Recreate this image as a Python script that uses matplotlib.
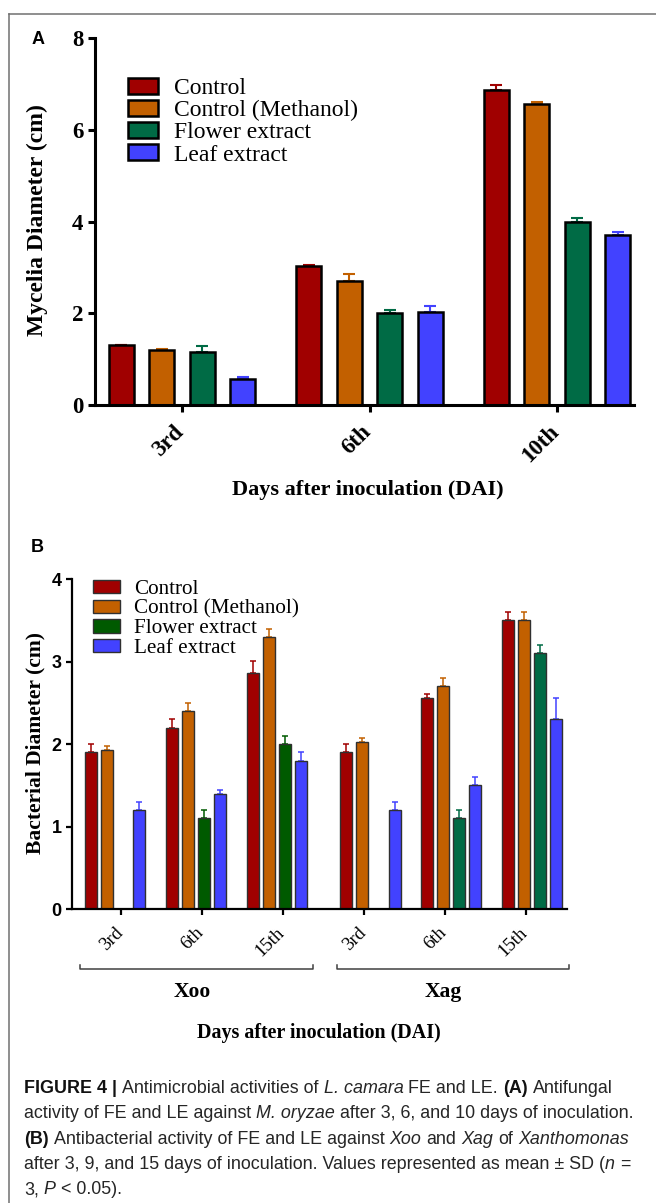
import matplotlib
matplotlib.use('Agg')
import matplotlib.pyplot as plt
import matplotlib.transforms as mtransforms
from matplotlib.patches import Patch
from matplotlib.lines import Line2D
from matplotlib import font_manager
import numpy as np

# ---------------- data ----------------
series = ['Control', 'Control (Methanol)', 'Flower extract', 'Leaf extract']

a_days = ['3rd', '6th', '10th']
a_control = [1.30, 3.03, 6.88]
a_control_sd = [0.00, 0.03, 0.10]
a_methanol = [1.20, 2.70, 6.56]
a_methanol_sd = [0.03, 0.15, 0.04]
a_flower = [1.16, 2.00, 4.00]
a_flower_sd = [0.13, 0.07, 0.08]
a_leaf = [0.56, 2.03, 3.70]
a_leaf_sd = [0.04, 0.13, 0.08]
a_yticks = [0, 2, 4, 6, 8]

b_days = ['3rd', '6th', '15th', '3rd', '6th', '15th']
b_pathogen = ['Xoo', 'Xoo', 'Xoo', 'Xag', 'Xag', 'Xag']
b_control = [1.90, 2.20, 2.86, 1.90, 2.56, 3.50]
b_control_sd = [0.10, 0.10, 0.15, 0.10, 0.05, 0.10]
b_methanol = [1.93, 2.40, 3.30, 2.03, 2.70, 3.50]
b_methanol_sd = [0.05, 0.10, 0.10, 0.05, 0.10, 0.10]
b_flower = [0.00, 1.10, 2.00, 0.00, 1.10, 3.10]
b_flower_sd = [0.00, 0.10, 0.10, 0.00, 0.10, 0.10]
b_leaf = [1.20, 1.40, 1.80, 1.20, 1.50, 2.30]
b_leaf_sd = [0.10, 0.05, 0.10, 0.10, 0.10, 0.26]
b_yticks = [0, 1, 2, 3, 4]

# ---------------- style ----------------
W, H = 656, 1203
c_control = '#A00000'
c_meth = '#C26000'
c_flower_a = '#006B45'
c_flower_xoo = '#005A00'
c_flower_xag = '#006B45'
c_leaf = '#4242FF'
SERIF = 'Liberation Serif'
SANS = 'Liberation Sans'

fig = plt.figure(figsize=(W / 100, H / 100), dpi=100)


def fx(px):
    return px / W


def fy(py):
    return 1 - py / H


# frame
fig.add_artist(Line2D([fx(9), 1.0], [fy(13.5), fy(13.5)], transform=fig.transFigure,
                      color='#707070', lw=1.1))
fig.add_artist(Line2D([fx(9), fx(9)], [fy(13.5), 0.0], transform=fig.transFigure,
                      color='#707070', lw=1.1))

# ================= Panel A =================
axA = fig.add_axes([fx(94.5), fy(405), fx(634) - fx(94.5), fy(38.3) - fy(405)])
xa = np.arange(len(a_days))
pitch_a = 0.216
w_a = 0.134
a_vals = [a_control, a_methanol, a_flower, a_leaf]
a_sds = [a_control_sd, a_methanol_sd, a_flower_sd, a_leaf_sd]
a_cols = [c_control, c_meth, c_flower_a, c_leaf]
for k in range(4):
    pos = xa + (k - 1.5) * pitch_a
    axA.bar(pos, a_vals[k], width=w_a, color=a_cols[k], edgecolor='black',
            linewidth=1.8, zorder=2)
    axA.errorbar(pos, a_vals[k], yerr=[np.zeros(len(a_days)), a_sds[k]], fmt='none',
                 ecolor=a_cols[k], elinewidth=1.5, capsize=4.6, capthick=1.5, zorder=1)
axA.set_xlim(-0.467, 2.41)
axA.set_ylim(0, 8)
axA.set_yticks(a_yticks)
axA.set_xticks(xa)
axA.set_xticklabels(a_days, rotation=45, ha='right', fontsize=16.5, fontweight='bold', family=SERIF)
axA.set_yticklabels([str(v) for v in a_yticks], fontsize=16.5, fontweight='bold', family=SERIF)
for s in ['top', 'right']:
    axA.spines[s].set_visible(False)
for s in ['left', 'bottom']:
    axA.spines[s].set_linewidth(2.2)
axA.tick_params(axis='both', width=2.2, length=5, direction='out')
axA.tick_params(axis='x', pad=7)
axA.tick_params(axis='y', pad=3)
offA = mtransforms.ScaledTranslation(6 / 100, 0, fig.dpi_scale_trans)
for lab in axA.get_xticklabels():
    lab.set_transform(lab.get_transform() + offA)

handlesA = [Patch(facecolor=c, edgecolor='black', linewidth=1.8) for c in a_cols]
axA.legend(handlesA, series, loc='upper left', bbox_to_anchor=(fx(127.6), fy(78)),
           bbox_transform=fig.transFigure, frameon=False,
           prop={'family': SERIF, 'size': 17}, handlelength=1.3, handleheight=0.65,
           labelspacing=0.04, handletextpad=0.66, borderpad=0, borderaxespad=0)

fig.text(fx(37.5), fy(220.5), 'Mycelia Diameter (cm)', rotation=90, ha='center', va='center',
         family=SERIF, fontweight='bold', fontsize=17)
fig.text(fx(368), fy(490), 'Days after inoculation (DAI)', ha='center', va='center',
         family=SERIF, fontweight='bold', fontsize=16)
fig.text(fx(37.7), fy(40), 'A', ha='center', va='center', family=SANS, fontweight='bold',
         fontsize=13)

# ================= Panel B =================
axB = fig.add_axes([fx(72), fy(909.3), fx(567) - fx(72), fy(579) - fy(909.3)])
xb = np.arange(len(b_days))
group_shift = np.array([-0.075 if p == 'Xoo' else 0.08 for p in b_pathogen])
pitch_b = 0.199
w_b = 0.148
b_vals = [b_control, b_methanol, b_flower, b_leaf]
b_sds = [b_control_sd, b_methanol_sd, b_flower_sd, b_leaf_sd]
b_flower_cols = [c_flower_xoo if p == 'Xoo' else c_flower_xag for p in b_pathogen]
b_cols = [[c_control] * 6, [c_meth] * 6, b_flower_cols, [c_leaf] * 6]
for k in range(4):
    vals = np.array(b_vals[k])
    sds = np.array(b_sds[k])
    pos = xb + group_shift + (k - 1.5) * pitch_b
    m = vals > 0
    axB.bar(pos[m], vals[m], width=w_b, color=np.array(b_cols[k])[m], edgecolor='#303030',
            linewidth=1.0, zorder=2)
    for p, v, s, c in zip(pos[m], vals[m], sds[m], np.array(b_cols[k])[m]):
        axB.errorbar([p], [v], yerr=[[0], [s]], fmt='none', ecolor=c, elinewidth=1.1,
                     capsize=2.5, capthick=1.1, zorder=1)
axB.set_xlim(-0.61, 5.51)
axB.set_ylim(0, 4)
axB.set_yticks(b_yticks)
axB.set_xticks(xb)
axB.set_xticklabels(b_days, rotation=45, ha='right', fontsize=13.5, family=SERIF)
axB.set_yticklabels([str(v) for v in b_yticks], fontsize=13, fontweight='bold', family=SANS)
for s in ['top', 'right']:
    axB.spines[s].set_visible(False)
for s in ['left', 'bottom']:
    axB.spines[s].set_linewidth(1.6)
axB.tick_params(axis='both', width=1.6, length=4.5, direction='out')
axB.tick_params(axis='x', pad=6)
axB.tick_params(axis='y', pad=3)
offB = mtransforms.ScaledTranslation(5 / 100, 0, fig.dpi_scale_trans)
for lab in axB.get_xticklabels():
    lab.set_transform(lab.get_transform() + offB)

b_leg_cols = [c_control, c_meth, c_flower_xoo, c_leaf]
handlesB = [Patch(facecolor=c, edgecolor='#303030', linewidth=1.0) for c in b_leg_cols]
axB.legend(handlesB, series, loc='upper left', bbox_to_anchor=(fx(92.7), fy(580)),
           bbox_transform=fig.transFigure, frameon=False,
           prop={'family': SERIF, 'size': 15.2}, handlelength=1.28, handleheight=0.6,
           labelspacing=0.02, handletextpad=0.7, borderpad=0, borderaxespad=0)

# group brackets
for x0, x1 in [(80, 313.3), (336.8, 569)]:
    fig.add_artist(Line2D([fx(x0), fx(x0), fx(x1), fx(x1)], [fy(965), fy(969.3), fy(969.3), fy(965)],
                          transform=fig.transFigure, color='#404040', lw=1.1))
fig.text(fx(192.5), fy(991.7), 'Xoo', ha='center', va='center', family=SERIF,
         fontweight='bold', fontsize=15.5)
fig.text(fx(443.5), fy(991.7), 'Xag', ha='center', va='center', family=SERIF,
         fontweight='bold', fontsize=15.5)

fig.text(fx(35), fy(743), 'Bacterial Diameter (cm)', rotation=90, ha='center', va='center',
         family=SERIF, fontweight='bold', fontsize=15.5)
fig.text(fx(319), fy(1033), 'Days after inoculation (DAI)', ha='center', va='center',
         family=SERIF, fontweight='bold', fontsize=14.4)
fig.text(fx(37.6), fy(548), 'B', ha='center', va='center', family=SANS, fontweight='bold',
         fontsize=13)

# ================= caption =================
names = {f.name for f in font_manager.fontManager.ttflist}
CAP = 'Liberation Sans Narrow' if 'Liberation Sans Narrow' in names else SANS
cap_color = '#262626'
N, B_, I_ = ('normal', 'normal'), ('bold', 'normal'), ('normal', 'italic')
cap_lines = [
    [('FIGURE 4 |', B_, ' '), ('Antimicrobial activities of', N, ' '), ('L. camara', I_, ' '),
     ('FE and LE.', N, ' '), ('(A)', B_, ' '), ('Antifungal', N, '')],
    [('activity of FE and LE against', N, ' '), ('M. oryzae', I_, ' '),
     ('after 3, 6, and 10 days of inoculation.', N, '')],
    [('(B)', B_, ' '), ('Antibacterial activity of FE and LE against', N, ' '), ('Xoo', I_, ' '),
     ('and', N, ' '), ('Xag', I_, ' '), ('of', N, ' '), ('Xanthomonas', I_, '')],
    [('after 3, 9, and 15 days of inoculation. Values represented as mean \u00b1 SD (', N, ''),
     ('n', I_, ' '), ('=', N, '')],
    [('3,', N, ' '), ('P', I_, ' '), ('< 0.05).', N, '')],
]
renderer = fig.canvas.get_renderer()
probe = fig.text(0, 0, 'activity of FE and LE against M. oryzae after 3, 6, and 10 days of inoculation.',
                 family=CAP, fontsize=10)
pw = probe.get_window_extent(renderer).width
probe.remove()
cap_size = 10 * 610 / pw
p1 = fig.text(0, 0, 'a a', family=CAP, fontsize=cap_size)
p2 = fig.text(0, 0, 'aa', family=CAP, fontsize=cap_size)
space_w = p1.get_window_extent(renderer).width - p2.get_window_extent(renderer).width
p1.remove()
p2.remove()

baselines = [1093.3, 1118.5, 1144.0, 1169.3, 1194.5]
for line, base in zip(cap_lines, baselines):
    x = 24.0
    for txt, (wt, st), trail in line:
        t = fig.text(fx(x), fy(base), txt, family=CAP, fontsize=cap_size, fontweight=wt,
                     fontstyle=st, ha='left', va='baseline',
                     color='#111111' if wt == 'bold' else cap_color)
        x += t.get_window_extent(renderer).width
        if trail:
            x += space_w

fig.savefig('out.png', dpi=100)
